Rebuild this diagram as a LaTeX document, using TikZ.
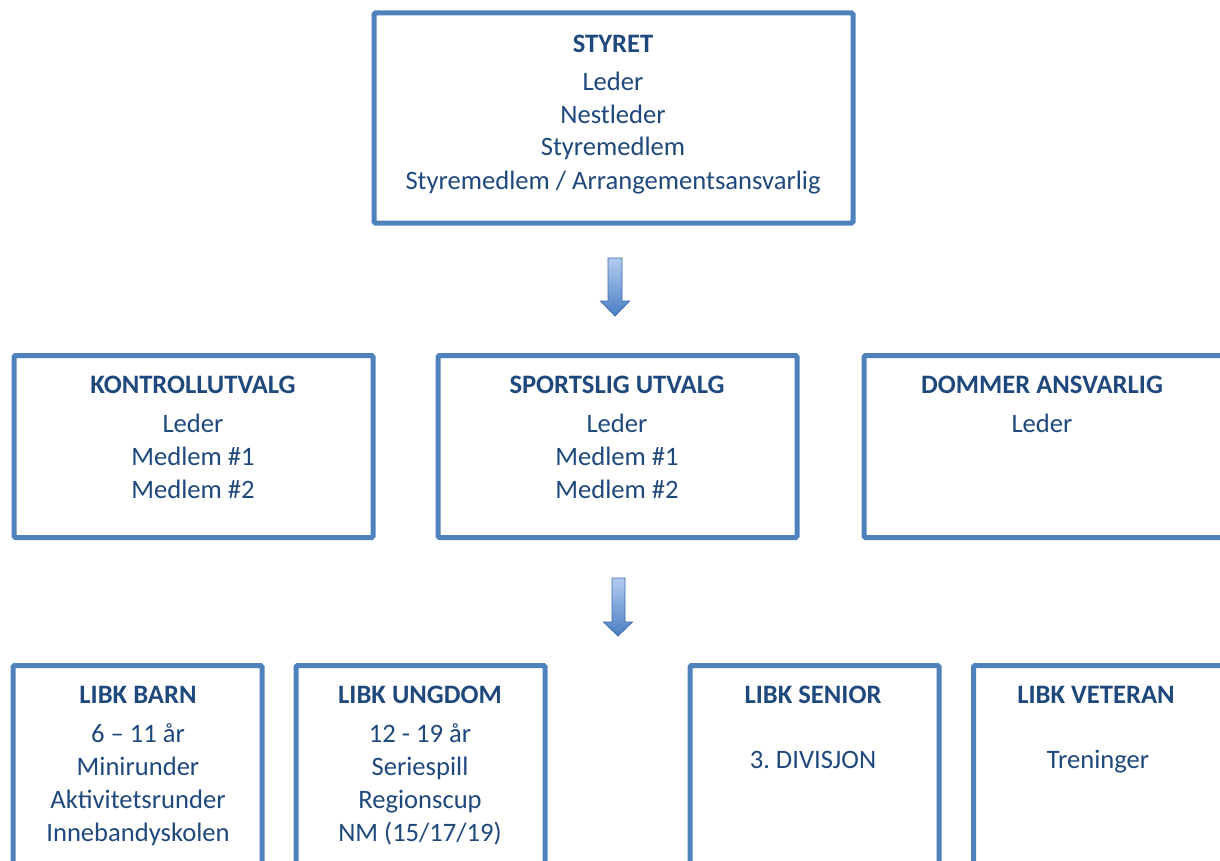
\documentclass[tikz,border=0pt]{standalone}
\usepackage{fontspec}
\setmainfont{Carlito}
\frenchspacing
\definecolor{boxblue}{HTML}{4F81BD}
\definecolor{txtblue}{HTML}{1F497D}
\definecolor{arrlight}{HTML}{B3CCF0}
\definecolor{arrdark}{HTML}{4A7EC4}
\definecolor{arredge}{HTML}{3D6DAA}
\begin{document}
\begin{tikzpicture}[x=1pt,y=-1pt,
  orgbox/.style={draw=boxblue, line width=5pt, rounded corners=1.5pt, fill=white, inner sep=0pt, outer sep=0pt, anchor=north west},
  ttl/.style={text=txtblue, font=\fontsize{26.6}{32}\selectfont\bfseries, anchor=base, inner sep=0pt, yshift=-8.5pt},
  txt/.style={text=txtblue, font=\fontsize{26.6}{32}\selectfont, anchor=base, inner sep=0pt, yshift=-8.5pt},
  downarrow/.style={top color=arrlight, bottom color=arrdark, draw=arredge, line width=0.8pt, line join=miter}
]
\useasboundingbox (0,0) rectangle (1220,861);
\clip (0,0) rectangle (1220,861);

% boxes
\node[orgbox, minimum width=479pt, minimum height=210pt] (styret) at (374,13) {};
\node[orgbox, minimum width=359pt, minimum height=182pt] (kontroll) at (14,355.5) {};
\node[orgbox, minimum width=359pt, minimum height=182pt] (sport) at (438,355.5) {};
\node[orgbox, minimum width=380pt, minimum height=182pt] (dommer) at (864,355.5) {};
\node[orgbox, minimum width=249pt, minimum height=240pt] (barn) at (13,665.5) {};
\node[orgbox, minimum width=249pt, minimum height=240pt] (ungdom) at (296,665.5) {};
\node[orgbox, minimum width=249pt, minimum height=240pt] (senior) at (690,665.5) {};
\node[orgbox, minimum width=260pt, minimum height=240pt] (veteran) at (973.5,665.5) {};

% arrows
\shade[downarrow] (608,258) -- (622,258) -- (622,301) -- (629.5,301) -- (615,316) -- (600.5,301) -- (608,301) -- cycle;
\shade[downarrow] (612,578) -- (625,578) -- (625,622) -- (632.5,622) -- (618,636) -- (603.5,622) -- (612,622) -- cycle;

% texts: STYRET
\node[ttl] (t-styret) at (613,44) {STYRET};
\node[txt] (s1) at (613,82) {Leder};
\node[txt] (s2) at (613,115) {Nestleder};
\node[txt] (s3) at (613,147) {Styremedlem};
\node[txt] (s4) at (613,181) {Styremedlem / Arrangementsansvarlig};

% KONTROLLUTVALG
\node[ttl] (t-kontroll) at (193,385) {KONTROLLUTVALG};
\node[txt] (k1) at (193,424) {Leder};
\node[txt] (k2) at (193,457) {Medlem \#1};
\node[txt] (k3) at (193,490) {Medlem \#2};

% SPORTSLIG UTVALG
\node[ttl] (t-sport) at (617,385) {SPORTSLIG UTVALG};
\node[txt] (p1) at (617,424) {Leder};
\node[txt] (p2) at (617,457) {Medlem \#1};
\node[txt] (p3) at (617,490) {Medlem \#2};

% DOMMER ANSVARLIG
\node[ttl] (t-dommer) at (1042,385) {DOMMER ANSVARLIG};
\node[txt] (d1) at (1042,424) {Leder};

% LIBK BARN
\node[ttl] (t-barn) at (138,695) {LIBK BARN};
\node[txt] (b1) at (138,734) {6 – 11 år};
\node[txt] (b2) at (138,767) {Minirunder};
\node[txt] (b3) at (138,800) {Aktivitetsrunder};
\node[txt] (b4) at (138,833) {Innebandyskolen};

% LIBK UNGDOM
\node[ttl] (t-ungdom) at (420,695) {LIBK UNGDOM};
\node[txt] (u1) at (420,734) {12 - 19 år};
\node[txt] (u2) at (420,767) {Seriespill};
\node[txt] (u3) at (420,800) {Regionscup};
\node[txt] (u4) at (420,833) {NM (15/17/19)};

% LIBK SENIOR
\node[ttl] (t-senior) at (813,695) {LIBK SENIOR};
\node[txt] (e1) at (813,760) {3. DIVISJON};

% LIBK VETERAN
\node[ttl] (t-veteran) at (1096,695) {LIBK VETERAN};
\node[txt] (v1) at (1098,760) {Treninger};
\end{tikzpicture}
\end{document}
